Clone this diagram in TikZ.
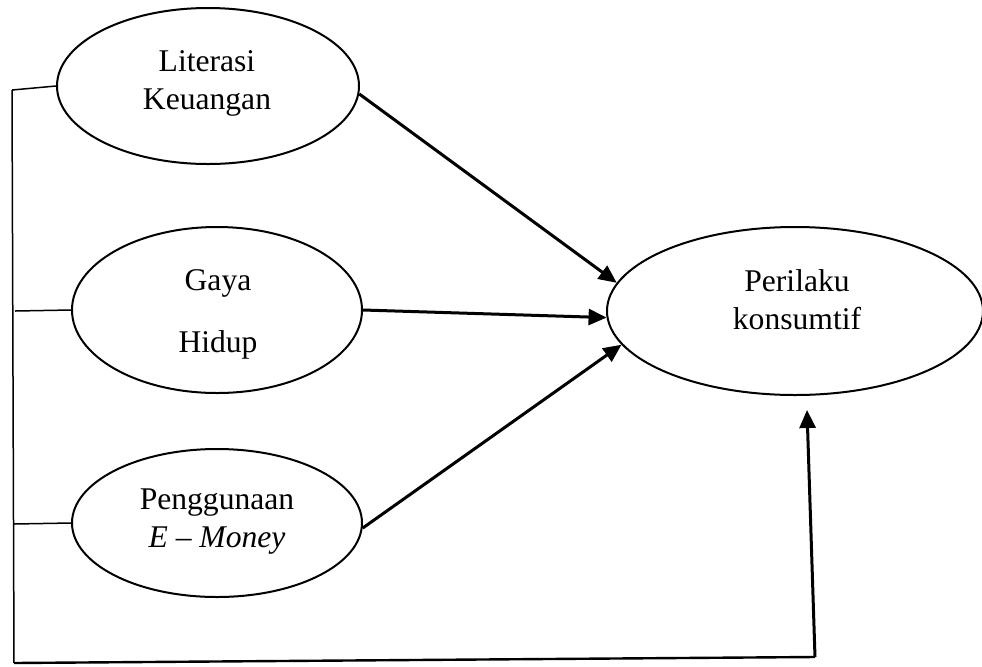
\documentclass[tikz,border=0pt]{standalone}
\usepackage{fontspec}
\setmainfont{Liberation Serif}
\usetikzlibrary{shapes.geometric,arrows.meta}
\begin{document}
\begin{tikzpicture}[x=0.5pt,y=-0.5pt,
  ell/.style={draw,ellipse,line width=1pt,inner sep=0pt},
  lbl/.style={align=center,inner sep=0pt,font=\fontsize{15.8}{19}\selectfont},
  arr/.style={line width=1.5pt,-{Triangle[length=9pt,width=8pt]}},
  thin/.style={line width=0.75pt},
  base/.style={line width=1.2pt}]
\useasboundingbox (0,0) rectangle (982,666);
\node[ell,minimum width=151pt,minimum height=78pt] (L) at (208,86) {};
\node[ell,minimum width=145pt,minimum height=83pt] (G) at (217,310) {};
\node[ell,minimum width=145pt,minimum height=74pt] (P) at (217,523) {};
\node[ell,minimum width=188pt,minimum height=84pt] (K) at (795,311) {};
\node[lbl] (Lt) at (207,83) {Literasi\\Keuangan};
\node[lbl,font=\fontsize{15.8}{31}\selectfont] (Gt) at (218,314) {Gaya\\Hidup};
\node[lbl] (Pt) at (217,522) {Penggunaan\\\textit{E} – \textit{Money}};
\node[lbl] (Kt) at (797,300) {Perilaku\\konsumtif};
\coordinate (t) at (12,90);
\coordinate (g) at (15,311);
\coordinate (p) at (14,524);
\coordinate (b) at (14,663);
\coordinate (c) at (815,657);
\coordinate (e) at (807,410);
\draw[thin] (t) -- (L.west);
\draw[thin] (g) -- (G.west);
\draw[thin] (p) -- (P.west);
\draw[thin] (t) -- (b);
\draw[base] (b) -- (c);
\draw[arr] (c) -- (e);
\draw[arr] (L.-3) -- (K.171);
\draw[arr] (G.east) -- (K.182);
\draw[arr] (P.-2) -- (K.191);
\end{tikzpicture}
\end{document}
